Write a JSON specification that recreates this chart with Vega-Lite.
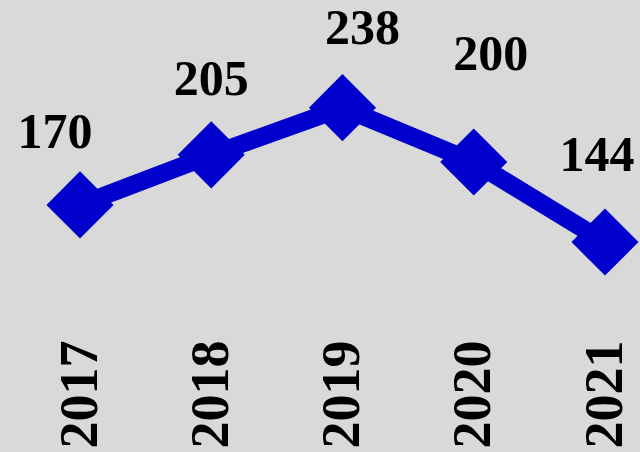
{
  "$schema": "https://vega.github.io/schema/vega-lite/v6.json",
  "autosize": "none",
  "width": 525,
  "height": 286,
  "padding": {"top": 19, "left": 80, "right": 35, "bottom": 147},
  "background": "#d9d9d9",
  "config": {"view": {"stroke": null}, "font": "Liberation Serif"},
  "data": {"values": [
    {"year": "2017", "value": 170},
    {"year": "2018", "value": 205},
    {"year": "2019", "value": 238},
    {"year": "2020", "value": 200},
    {"year": "2021", "value": 144}
  ]},
  "encoding": {
    "x": {"field": "year", "type": "ordinal", "scale": {"type": "point", "padding": 0},
      "axis": {"title": null, "domain": false, "ticks": false, "labelAngle": -90, "labelPadding": 35,
        "labelFont": "Liberation Serif", "labelFontSize": 54, "labelFontWeight": "bold", "labelColor": "#000000"}},
    "y": {"field": "value", "type": "quantitative", "scale": {"domain": [100, 300]}, "axis": null}
  },
  "layer": [
    {"mark": {"type": "line", "color": "#0000cc", "strokeWidth": 18}},
    {"mark": {"type": "point", "shape": "diamond", "filled": true, "color": "#0000cc", "opacity": 1, "size": 4500}},
    {"transform": [{"filter": "datum.year == '2017'"}], "mark": {"type": "text", "font": "Liberation Serif", "fontWeight": "bold", "fontSize": 50, "baseline": "middle", "dx": -25, "dy": -72}, "encoding": {"text": {"field": "value"}}},
    {"transform": [{"filter": "datum.year == '2018'"}], "mark": {"type": "text", "font": "Liberation Serif", "fontWeight": "bold", "fontSize": 50, "baseline": "middle", "dx": 0, "dy": -75}, "encoding": {"text": {"field": "value"}}},
    {"transform": [{"filter": "datum.year == '2019'"}], "mark": {"type": "text", "font": "Liberation Serif", "fontWeight": "bold", "fontSize": 50, "baseline": "middle", "dx": 20, "dy": -79}, "encoding": {"text": {"field": "value"}}},
    {"transform": [{"filter": "datum.year == '2020'"}], "mark": {"type": "text", "font": "Liberation Serif", "fontWeight": "bold", "fontSize": 50, "baseline": "middle", "dx": 17, "dy": -107}, "encoding": {"text": {"field": "value"}}},
    {"transform": [{"filter": "datum.year == '2021'"}], "mark": {"type": "text", "font": "Liberation Serif", "fontWeight": "bold", "fontSize": 50, "baseline": "middle", "dx": -8, "dy": -86}, "encoding": {"text": {"field": "value"}}}
  ]
}
